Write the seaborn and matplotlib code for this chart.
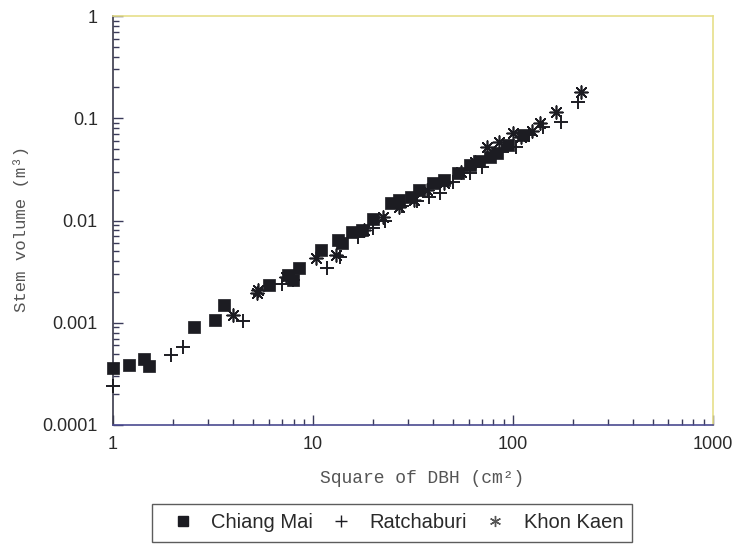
import numpy as np
import matplotlib
matplotlib.use("Agg")
import matplotlib.pyplot as plt
import matplotlib.ticker as mticker
import seaborn as sns

# values (log-log axes)
cm_x = [1.0, 1.2, 1.43, 1.52, 2.54, 3.23, 3.6, 6.05, 7.5, 7.96, 8.5, 11.0, 13.4,
        14.0, 15.6, 17.5, 19.9, 24.6, 27, 31.1, 34, 40, 45, 53, 61, 68, 77, 83, 95, 113]
cm_y = [0.00036, 0.00039, 0.00044, 0.00038, 0.00091, 0.00106, 0.00149, 0.00234,
        0.0029, 0.0026, 0.0034, 0.0052, 0.0065, 0.0060, 0.0078, 0.0081, 0.0103,
        0.0149, 0.016, 0.0171, 0.020, 0.0231, 0.025, 0.029, 0.035, 0.038, 0.042,
        0.0454, 0.055, 0.069]

rb_x = [1.0, 1.94, 2.25, 4.45, 7.0, 7.9, 11.8, 13.6, 16.8, 20, 23, 28, 33, 38, 43,
        50, 61, 70, 88, 104, 120, 141, 175, 211]
rb_y = [0.00024, 0.00048, 0.00058, 0.00104, 0.0024, 0.0026, 0.0034, 0.0044, 0.0069,
        0.0085, 0.0100, 0.0140, 0.0155, 0.0170, 0.0184, 0.024, 0.029, 0.033, 0.047,
        0.0527, 0.068, 0.0826, 0.0925, 0.145]

kk_x = [4.0, 5.23, 5.3, 7.3, 10.35, 13.1, 18, 22.5, 27, 32, 37, 45, 55, 65, 74, 85,
        100, 110, 125, 136, 165, 220]
kk_y = [0.0012, 0.00194, 0.0021, 0.0028, 0.0043, 0.0046, 0.0080, 0.0109, 0.0135,
        0.0160, 0.0200, 0.0235, 0.030, 0.037, 0.0527, 0.058, 0.071, 0.066, 0.075,
        0.089, 0.116, 0.182]

sites = ["Chiang Mai", "Ratchaburi", "Khon Kaen"]

sns.set_style("white")
plt.rcParams["font.family"] = ["Liberation Sans", "DejaVu Sans"]

fig = plt.figure(figsize=(7.44, 5.45), dpi=100)
ax = fig.add_axes([0.152, 0.2202, 0.806, 0.7504])

ink = "#1c1c22"
# one call per site: filled squares vs line-art markers
sns.scatterplot(x=cm_x, y=cm_y, marker="s", s=70, color=ink, edgecolor=ink,
                linewidth=0.5, ax=ax, clip_on=False, zorder=3)
sns.scatterplot(x=rb_x, y=rb_y, marker="+", s=100, color=ink, linewidth=1.4, ax=ax,
                clip_on=False, zorder=3)
sns.scatterplot(x=kk_x, y=kk_y, marker=(8, 2, 0), s=85, color=ink, linewidth=1.2, ax=ax,
                clip_on=False, zorder=3)

ax.set_xscale("log")
ax.set_yscale("log")
ax.set_xlim(1, 1000)
ax.set_ylim(0.0001, 1)

ax.xaxis.set_major_locator(mticker.FixedLocator([1, 10, 100, 1000]))
ax.xaxis.set_major_formatter(mticker.FixedFormatter(["1", "10", "100", "1000"]))
ax.yaxis.set_major_locator(mticker.FixedLocator([0.0001, 0.001, 0.01, 0.1, 1]))
ax.yaxis.set_major_formatter(mticker.FixedFormatter(["0.0001", "0.001", "0.01", "0.1", "1"]))
ax.xaxis.set_minor_locator(mticker.LogLocator(base=10, subs=np.arange(2, 10)))
ax.yaxis.set_minor_locator(mticker.LogLocator(base=10, subs=np.arange(2, 10)))
ax.xaxis.set_minor_formatter(mticker.NullFormatter())
ax.yaxis.set_minor_formatter(mticker.NullFormatter())

ax.tick_params(which="both", direction="in", colors="#3a3a5a", labelcolor="#2a2a2a",
               labelsize=13, left=True, bottom=True)
ax.tick_params(axis="y", which="major", pad=11)
ax.tick_params(axis="x", which="major", pad=8)
ax.tick_params(which="major", length=7, width=1)
ax.tick_params(which="minor", length=4, width=1)

ax.spines["left"].set_color("#3a3a4a")
ax.spines["bottom"].set_color("#4a4a90")
ax.spines["top"].set_color("#e6df8a")
ax.spines["right"].set_color("#e6df8a")
for sp in ax.spines.values():
    sp.set_linewidth(1.2)

ax.set_xlabel("Square of DBH (cm²)", family="Liberation Mono", fontsize=13,
              color="#555555")
ax.set_ylabel("Stem volume (m³)", family="Liberation Mono", fontsize=12.5,
              color="#555555")
ax.xaxis.set_label_coords(0.515, -0.13)
ax.xaxis.label.set_va("center")
ax.yaxis.set_label_coords(-0.153, 0.479)
ax.yaxis.label.set_va("center")

handles = [
    plt.Line2D([], [], marker="s", color=ink, linestyle="none", markersize=6.5),
    plt.Line2D([], [], marker="+", color=ink, linestyle="none", markersize=8, markeredgewidth=1),
    plt.Line2D([], [], marker=(6, 2, 0), color="#555555", linestyle="none", markersize=8, markeredgewidth=1),
]
leg = fig.legend(handles, sites, loc="center", bbox_to_anchor=(392 / 744, 1 - 523 / 545),
                 ncol=3, frameon=True, fancybox=False, fontsize=14.5,
                 handlelength=2.2, handletextpad=0.3, columnspacing=0.3, borderpad=0.45)
leg.get_frame().set_edgecolor("#333333")
leg.get_frame().set_linewidth(1.0)
for t in leg.get_texts():
    t.set_color("#2a2a2a")

fig.savefig("out.png", dpi=100)
